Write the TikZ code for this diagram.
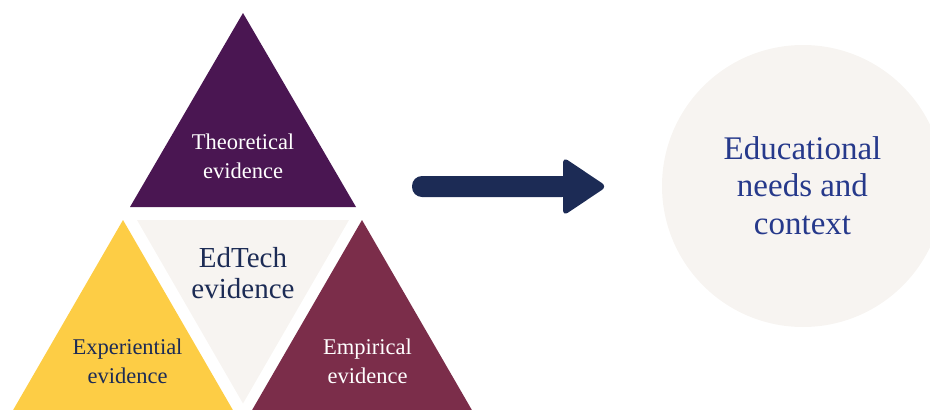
\documentclass[tikz,border=0pt]{standalone}
\usepackage{fontspec}
\setmainfont{Liberation Serif}
\definecolor{theo}{HTML}{4A1652}
\definecolor{expe}{HTML}{FDCD45}
\definecolor{empi}{HTML}{7B2D4A}
\definecolor{pale}{HTML}{F7F4F1}
\definecolor{navy}{HTML}{1C2B55}
\definecolor{blue}{HTML}{26398B}
\begin{document}
\begin{tikzpicture}[x=1pt,y=-1pt,
  lbl/.style={align=center,inner sep=0pt,font=\fontsize{22.5}{29}\selectfont},
  big/.style={align=center,inner sep=0pt,font=\fontsize{29}{31}\selectfont},
  edu/.style={align=center,inner sep=0pt,font=\fontsize{33}{37.5}\selectfont,text=blue}]
\useasboundingbox (0,0) rectangle (930,410);
\clip (0,0) rectangle (930,410);
% circle
\fill[pale] (803,186) circle (141);
% triangles
\fill[theo] (243,13) -- (130,207) -- (356,207) -- cycle;
\fill[pale] (137,220) -- (349,220) -- (243,403.5) -- cycle;
\fill[expe] (123,220) -- (0.4,432) -- (245.6,432) -- cycle;
\fill[empi] (362,220) -- (239.4,432) -- (484.6,432) -- cycle;
% arrow
\fill[navy,rounded corners=10pt] (412,176) rectangle (572,197);
\fill[navy,rounded corners=6pt] (563,157) -- (607,186.5) -- (563,216) -- cycle;
% labels
\node[lbl,text=white,anchor=base] (theo) at (243,178) {Theoretical\\evidence};
\node[big,text=navy,anchor=base] (edt) at (243,298) {EdTech\\evidence};
\node[lbl,text=navy,anchor=base] (expe) at (127.5,383) {Experiential\\evidence};
\node[lbl,text=white,anchor=base] (empi) at (367.5,383) {Empirical\\evidence};
\node[edu,anchor=base] (edu) at (802.5,234) {Educational\\needs and\\context};
\end{tikzpicture}
\end{document}
